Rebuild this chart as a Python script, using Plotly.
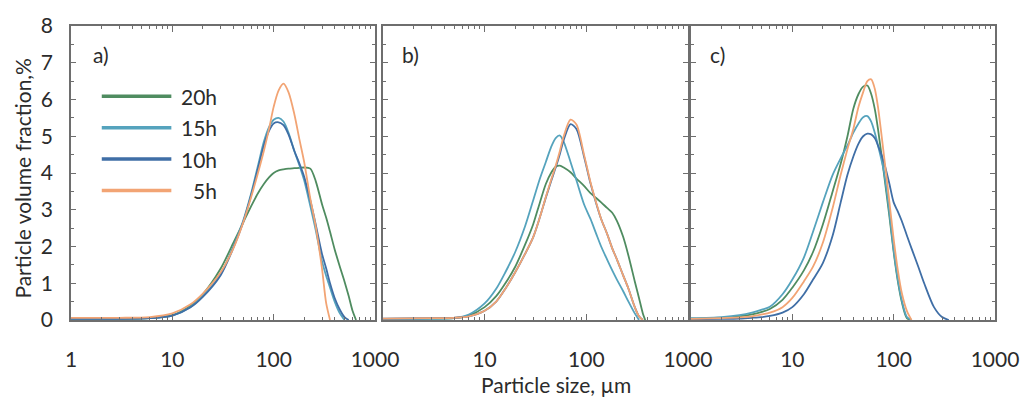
import plotly.graph_objects as go

# Milling time series, drawn in this order in every panel
SERIES = ["20h", "15h", "10h", "5h"]
COLORS = ["#4f8c60", "#55a3bd", "#3f6ea6", "#f2a474"]

# ---- panel a) ----
SIZE_A = [1, 3, 6, 10, 15, 20, 30, 40, 50, 60, 70, 80, 90, 100, 112, 125, 140, 160, 180,
          200, 230, 260, 300, 330, 360, 400, 450, 500, 550, 600, 650]
A_20H = [0.03, 0.03, 0.05, 0.13, 0.38, 0.70, 1.40, 2.10, 2.65, 3.10, 3.45, 3.70, 3.88, 4.00,
         4.07, 4.10, 4.12, 4.13, 4.14, 4.15, 4.12, 3.78, 3.15, 2.78, 2.40, 1.92, 1.45, 1.05,
         0.65, 0.25, 0.0]
A_15H = [0.03, 0.03, 0.05, 0.12, 0.35, 0.65, 1.25, 2.00, 2.70, 3.45, 4.20, 4.85, 5.25, 5.45,
         5.50, 5.40, 5.10, 4.60, 4.20, 3.80, 3.10, 2.45, 1.60, 1.20, 0.88, 0.50, 0.18, 0.0,
         0.0, 0.0, 0.0]
A_10H = [0.03, 0.03, 0.05, 0.12, 0.34, 0.63, 1.22, 1.96, 2.66, 3.40, 4.12, 4.75, 5.15, 5.35,
         5.38, 5.30, 5.05, 4.60, 4.25, 3.90, 3.25, 2.60, 1.80, 1.40, 1.00, 0.60, 0.28, 0.08,
         0.0, 0.0, 0.0]
A_5H = [0.06, 0.06, 0.08, 0.18, 0.42, 0.72, 1.30, 1.95, 2.65, 3.35, 4.00, 4.60, 5.20, 5.80,
        6.25, 6.43, 6.20, 5.60, 4.90, 4.30, 3.30, 2.55, 1.40, 0.45, 0.0, 0.0, 0.0, 0.0,
        0.0, 0.0, 0.0]

# ---- panel b) ----
SIZE_B = [1, 3, 5, 7, 10, 13, 16, 20, 25, 30, 35, 40, 45, 50, 55, 60, 70, 80, 95, 110, 125,
          140, 160, 180, 200, 230, 260, 300, 330, 360, 380]
B_20H = [0.03, 0.04, 0.05, 0.12, 0.35, 0.65, 1.00, 1.45, 2.05, 2.60, 3.20, 3.70, 4.00, 4.17,
         4.20, 4.15, 4.02, 3.85, 3.65, 3.45, 3.32, 3.20, 3.05, 2.92, 2.70, 2.27, 1.75, 1.05,
         0.60, 0.18, 0.0]
B_15H = [0.02, 0.03, 0.05, 0.15, 0.45, 0.85, 1.30, 1.85, 2.55, 3.25, 3.85, 4.30, 4.70, 4.95,
         5.02, 4.85, 4.30, 3.80, 3.15, 2.75, 2.35, 2.00, 1.65, 1.35, 1.10, 0.79, 0.50, 0.18,
         0.0, 0.0, 0.0]
B_10H = [0.04, 0.05, 0.06, 0.10, 0.25, 0.50, 0.85, 1.30, 1.80, 2.25, 2.80, 3.33, 3.77, 4.15,
         4.52, 4.90, 5.33, 5.20, 4.45, 3.72, 3.18, 2.75, 2.35, 1.95, 1.65, 1.22, 0.85, 0.35,
         0.10, 0.0, 0.0]
B_5H = [0.04, 0.05, 0.06, 0.10, 0.25, 0.50, 0.85, 1.30, 1.80, 2.25, 2.80, 3.35, 3.80, 4.20,
        4.60, 5.00, 5.45, 5.32, 4.50, 3.75, 3.20, 2.75, 2.35, 1.95, 1.65, 1.22, 0.85, 0.35,
        0.10, 0.0, 0.0]

# ---- panel c) ----
SIZE_C = [1, 2, 3, 4, 5, 6, 8, 10, 13, 16, 20, 25, 30, 35, 40, 45, 50, 55, 60, 65, 70, 80,
          90, 100, 110, 120, 135, 150, 175, 200, 250, 300, 350]
C_20H = [0.04, 0.06, 0.10, 0.15, 0.22, 0.30, 0.55, 0.88, 1.35, 1.85, 2.60, 3.50, 4.25, 5.00,
         5.75, 6.15, 6.35, 6.38, 6.15, 5.75, 5.20, 4.00, 2.90, 1.85, 1.05, 0.50, 0.05, 0.0,
         0.0, 0.0, 0.0, 0.0, 0.0]
C_15H = [0.05, 0.08, 0.13, 0.20, 0.28, 0.36, 0.70, 1.10, 1.70, 2.40, 3.20, 3.95, 4.40, 4.75,
         5.10, 5.35, 5.52, 5.55, 5.40, 5.10, 4.75, 4.05, 3.00, 1.90, 1.10, 0.55, 0.08, 0.0,
         0.0, 0.0, 0.0, 0.0, 0.0]
C_10H = [0.02, 0.03, 0.04, 0.06, 0.08, 0.11, 0.20, 0.35, 0.70, 1.10, 1.55, 2.30, 3.20, 3.95,
         4.45, 4.80, 5.00, 5.07, 5.05, 4.95, 4.75, 4.30, 3.75, 3.20, 2.95, 2.70, 2.30, 1.95,
         1.45, 1.00, 0.35, 0.08, 0.0]
C_5H = [0.03, 0.05, 0.07, 0.10, 0.15, 0.20, 0.35, 0.60, 1.05, 1.45, 2.10, 3.05, 3.95, 4.65,
        5.20, 5.80, 6.20, 6.50, 6.55, 6.30, 5.80, 4.50, 3.30, 2.20, 1.35, 0.75, 0.25, 0.0,
        0.0, 0.0, 0.0, 0.0, 0.0]

PANELS = [
    ("a)", SIZE_A, [A_20H, A_15H, A_10H, A_5H]),
    ("b)", SIZE_B, [B_20H, B_15H, B_10H, B_5H]),
    ("c)", SIZE_C, [C_20H, C_15H, C_10H, C_5H]),
]

X_TICKS = [[1, 10, 100, 1000], [10, 100, 1000], [10, 100, 1000]]
Y_TICKS = [0, 1, 2, 3, 4, 5, 6, 7, 8]

FONT = "Lato"
TXT = "#2b2b2b"
AXC = "#6e6e6e"

DOMAINS = [[0.0, 0.329], [0.3376, 0.6677], [0.671, 1.0]]
LABEL_X = [0.0323, 0.3677, 0.700]


def trim(xs, ys):
    """Stop each curve at its first zero after the peak."""
    peak = ys.index(max(ys))
    for i in range(peak, len(ys)):
        if ys[i] == 0:
            return xs[: i + 1], ys[: i + 1]
    return xs, ys


minor_vals = [m * 10 ** e for e in range(0, 3) for m in range(2, 10)]

fig = go.Figure()
layout = dict(
    width=1031, height=407,
    margin=dict(l=71, r=30, t=15, b=87),
    paper_bgcolor="white", plot_bgcolor="white",
    font=dict(family=FONT, size=21, color=TXT),
    showlegend=False,
)

annotations = []
for k, (label, sizes, curves) in enumerate(PANELS):
    sfx = "" if k == 0 else str(k + 1)
    for name, color, vals in zip(SERIES, COLORS, curves):
        xs, ys = trim(sizes, vals)
        fig.add_trace(go.Scatter(
            x=xs, y=ys, mode="lines", name=name,
            line=dict(color=color, width=1.8, shape="spline", smoothing=0.8),
            xaxis="x" + sfx, yaxis="y" + sfx, showlegend=False,
        ))
    layout["xaxis" + sfx] = dict(
        type="log", range=[0, 3], domain=DOMAINS[k], anchor="y" + sfx,
        tickvals=X_TICKS[k], ticktext=[str(v) for v in X_TICKS[k]],
        ticks="inside", ticklen=6, tickcolor=AXC, tickwidth=1,
        minor=dict(tickvals=minor_vals, ticks="inside", ticklen=3, tickcolor=AXC),
        showline=True, linecolor=AXC, linewidth=1.5, mirror="ticks",
        showgrid=False, zeroline=False, ticklabelstandoff=20,
        tickfont=dict(family=FONT, size=21, color=TXT),
    )
    layout["yaxis" + sfx] = dict(
        range=[0, 8], anchor="x" + sfx, tickvals=Y_TICKS,
        showticklabels=(k == 0),
        ticks="inside", ticklen=5, tickcolor=AXC, tickwidth=1,
        minor=dict(dtick=0.5, ticks="inside", ticklen=3, tickcolor=AXC),
        showline=True, linecolor=AXC, linewidth=1.5, mirror="ticks",
        showgrid=False, zeroline=False, ticklabelstandoff=12,
        tickfont=dict(family=FONT, size=21, color=TXT),
    )
    annotations.append(dict(
        x=LABEL_X[k], y=0.9016, xref="paper", yref="paper", text=label,
        showarrow=False, xanchor="center", yanchor="middle",
        font=dict(family=FONT, size=21, color=TXT),
    ))

# Legend drawn inside panel a)
shapes = []
for i, (name, color) in enumerate(zip(SERIES, COLORS)):
    yy = 0.7607 - 0.1066 * i
    shapes.append(dict(type="line", xref="paper", yref="paper",
                       x0=0.0333, x1=0.1086, y0=yy, y1=yy,
                       line=dict(color=color, width=3.5)))
    annotations.append(dict(x=0.1602, y=yy, xref="paper", yref="paper", text=name,
                            showarrow=False, xanchor="right", yanchor="middle",
                            font=dict(family=FONT, size=21, color=TXT)))

# Axis titles
annotations.append(dict(x=0.5247, y=-0.2197, xref="paper", yref="paper",
                        text="Particle size, µm", showarrow=False,
                        xanchor="center", yanchor="middle",
                        font=dict(family=FONT, size=21, color=TXT)))
annotations.append(dict(x=-0.0527, y=0.482, xref="paper", yref="paper",
                        text="Particle volume fraction,%", textangle=-90, showarrow=False,
                        xanchor="center", yanchor="middle",
                        font=dict(family=FONT, size=21, color=TXT)))

layout["annotations"] = annotations
layout["shapes"] = shapes
fig.update_layout(**layout)

fig.write_html("out.html")
